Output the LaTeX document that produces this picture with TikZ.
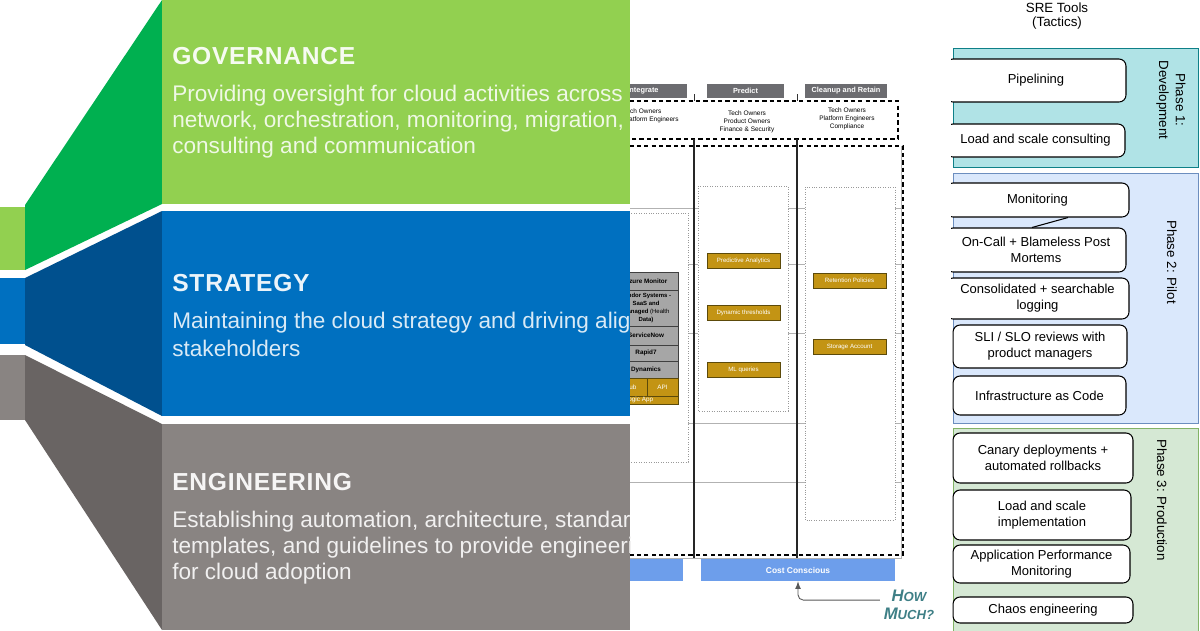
\documentclass[tikz,border=0pt]{standalone}
\usepackage{fontspec}
\setmainfont{Liberation Sans}
\newfontfamily\headfont[LetterSpace=3]{Liberation Sans}
\usepackage{tikz}
\usetikzlibrary{arrows, positioning}
\definecolor{govlight}{HTML}{92D050}
\definecolor{govdark}{HTML}{00B050}
\definecolor{stratlight}{HTML}{0070C0}
\definecolor{stratdark}{HTML}{00508E}
\definecolor{englight}{HTML}{898482}
\definecolor{engdark}{HTML}{696463}
\definecolor{lanegray}{HTML}{6C6C70}
\definecolor{srcgray}{HTML}{A6A6A6}
\definecolor{goldbox}{HTML}{C39414}
\definecolor{golddark}{HTML}{5C4A0A}
\definecolor{costblue}{HTML}{6D9EEB}
\definecolor{handteal}{HTML}{3E7F86}
\definecolor{devfill}{HTML}{B0E3E6}
\definecolor{devline}{HTML}{0E8088}
\definecolor{pilotfill}{HTML}{DAE8FC}
\definecolor{pilotline}{HTML}{6C8EBF}
\definecolor{prodfill}{HTML}{D5E8D4}
\definecolor{prodline}{HTML}{82B366}
\NewDocumentCommand \sz{ m m }{%
    \fontsize{#1}{#2}\selectfont%
}
\NewDocumentCommand \fakesc{ m }{%
    {\fontsize{7.5}{8}\selectfont\MakeUppercase{#1}}%
}

\begin{document}
\begin{tikzpicture}[x=0.02cm, y=-0.02cm]
    \tikzstyle{head}=[anchor=base west, inner sep=0pt, font=\headfont\bfseries\sz{14}{16}]
    \tikzstyle{body}=[anchor=base west, inner sep=0pt, font=\sz{12.85}{15}]
    \tikzstyle{lane}=[fill=lanegray, text=white, font=\bfseries\sz{4.2}{5}, inner sep=0pt, minimum height=0.28cm]
    \tikzstyle{who}=[font=\sz{3.7}{4.6}, align=center, inner sep=0pt]
    \tikzstyle{gold}=[fill=goldbox, draw=golddark, line width=0.5pt, text=white, font=\sz{3.5}{4}, inner sep=0pt, minimum width=1.46cm, minimum height=0.3cm]
    \tikzstyle{src}=[fill=srcgray, draw=black!75, line width=0.5pt, font=\bfseries\sz{3.6}{4.4}, align=center, inner sep=0pt, minimum width=1.28cm]
    \tikzstyle{bar}=[fill=costblue, text=white, font=\bfseries\sz{4.8}{6}, inner sep=0pt, minimum height=0.44cm]
    \tikzstyle{bigdash}=[black, line width=1.1pt, dash pattern=on 2.4pt off 1.8pt]
    \tikzstyle{dotbox}=[gray!80, fill=white, line width=0.4pt, densely dotted]
    \tikzstyle{laneline}=[gray!60, line width=0.4pt]
    \tikzstyle{tool}=[draw=black, fill=white, rounded corners=4pt, align=center, inner sep=0pt, font=\sz{7.4}{9}, line width=0.6pt]
    \tikzstyle{phase}=[rotate=-90, align=center, font=\sz{7.6}{9.6}, inner sep=0pt]
    \useasboundingbox (0,0) rectangle (1200,630);
    \fill[white] (0,0) rectangle (1200,630);

    % cloud operating model bands
    \begin{scope}
        \clip (0,0) rectangle (630,630);
        \fill[govlight] (0,207) rectangle (25,270);
        \fill[stratlight] (0,278) rectangle (25,344);
        \fill[englight] (0,355) rectangle (25,420);
        \fill[govdark] (25,205) -- (162,0) -- (162,204) -- (25,270) -- cycle;
        \fill[stratdark] (25,278) -- (162,211) -- (162,416) -- (25,345) -- cycle;
        \fill[engdark] (25,355) -- (162,424) -- (162,630) -- (25,420) -- cycle;
        \fill[govlight] (162,0) rectangle (630,204);
        \fill[stratlight] (162,211) rectangle (630,416);
        \fill[englight] (162,424) rectangle (630,630);
        \draw (172,64) node[head, text=white!92!govlight] (govhead) {GOVERNANCE};
        \draw (172,101) node[body, text=white!85!govlight] (gov1) {Providing oversight for cloud activities across};
        \draw (172,127) node[body, text=white!85!govlight] (gov2) {network, orchestration, monitoring, migration,};
        \draw (172,153) node[body, text=white!85!govlight] (gov3) {consulting and communication};
        \draw (172,291) node[head, text=white!92!stratlight] (strathead) {STRATEGY};
        \draw (172,328) node[body, text=white!85!stratlight] (strat1) {Maintaining the cloud strategy and driving alignment with};
        \draw (172,356) node[body, text=white!85!stratlight] (strat2) {stakeholders};
        \draw (172,490) node[head, text=white!92!englight] (enghead) {ENGINEERING};
        \draw (172,527) node[body, text=white!88!englight] (eng1) {Establishing automation, architecture, standards,};
        \draw (172,553) node[body, text=white!88!englight] (eng2) {templates, and guidelines to provide engineering};
        \draw (172,579) node[body, text=white!88!englight] (eng3) {for cloud adoption};
    \end{scope}

    % lanes
    \begin{scope}
        \clip (630,0) rectangle (951,630);
        \draw (643,91) node[lane, minimum width=1.76cm] (integrate) {Integrate};
        \draw (745.5,91) node[lane, minimum width=1.54cm] (predict) {Predict};
        \draw (846,91) node[lane, minimum width=1.64cm] (cleanup) {Cleanup and Retain};
        \draw[black!80, line width=0.5pt] (694,94) -- (694,101);
        \draw[black!80, line width=0.5pt] (797,94) -- (797,101);
        \draw (623,116) node[who, anchor=west, align=left] (intwho) {Tech Owners\\Platform Engineers};
        \draw (747,122) node[who] (predwho) {Tech Owners\\Product Owners\\Finance \& Security};
        \draw (847,119) node[who] (cleanwho) {Tech Owners\\Platform Engineers\\Compliance};
        \draw[bigdash] (600,101) -- (898,101) -- (898,139) -- (600,139);
        \foreach \y in {208,264,333,423,482}
            \draw[laneline] (600,\y) -- (901,\y);
        \draw[laneline] (901,146) -- (901,558) -- (600,558);
        \draw[dotbox] (600,213) rectangle (688,462);
        \draw[dotbox] (698,186) rectangle (788,411);
        \draw[dotbox] (805,187) rectangle (895,520);
        \draw[black!85, line width=0.6pt] (694,139) -- (694,558);
        \draw[black!85, line width=0.6pt] (797,139) -- (797,558);
        \draw[bigdash] (600,146) -- (903,146) -- (903,555) -- (600,555);
        \draw (646,281) node[src, minimum height=0.36cm] (azure) {Azure Monitor};
        \draw (646,308) node[src, minimum height=0.72cm, font=\bfseries\sz{3.4}{4.5}] (vendor) {Vendor Systems -\\SaaS and\\Managed \mdseries(Health\\Data)};
        \draw (646,335.5) node[src, minimum height=0.38cm] (snow) {ServiceNow};
        \draw (646,353) node[src, minimum height=0.32cm] (rapid) {Rapid7};
        \draw (646,369.5) node[src, minimum height=0.34cm] (dyn) {Dynamics};
        \draw (630.5,387) node[gold, minimum width=0.66cm, minimum height=0.36cm, font=\sz{3.6}{4.4}] (hub) {Hub};
        \draw (662.5,387) node[gold, minimum width=0.62cm, minimum height=0.36cm, font=\sz{3.6}{4.4}] (api) {API};
        \draw (639,400) node[gold, minimum width=1.56cm, minimum height=0.16cm, font=\sz{3.6}{4.4}] (logic) {Logic App};
        \draw (743.5,260.5) node[gold] (analytics) {Predictive Analytics};
        \draw (743.5,312.5) node[gold] (thresh) {Dynamic thresholds};
        \draw (743.5,369.5) node[gold] (mlq) {ML queries};
        \draw (849.5,280.5) node[gold] (retain) {Retention Policies};
        \draw (849.5,346.5) node[gold] (storage) {Storage Account};
        \draw (641.5,570) node[bar, minimum width=1.66cm] (leftbar) {};
        \draw (798,570) node[bar, minimum width=3.88cm] (cost) {Cost Conscious};
        \draw (909,605) node[align=center, inner sep=0pt, text=handteal, font=\bfseries\itshape\sz{9.5}{10.5}] (howmuch) {H\fakesc{ow}\\M\fakesc{uch?}};
        \draw[-latex, gray!70!black, line width=0.5pt, rounded corners=3pt] ([yshift=2.8pt, xshift=-2pt]howmuch.west) -| (cost.south);
    \end{scope}

    % SRE phases
    \begin{scope}
        \clip (951,0) rectangle (1200,630);
        \draw (1057,16) node[align=center, inner sep=0pt, font=\sz{7.6}{8}] (title) {SRE Tools\\(Tactics)};
        \draw[devline, fill=devfill, line width=0.5pt] (953,48) rectangle (1198,167);
        \draw[pilotline, fill=pilotfill, line width=0.5pt] (953,173) rectangle (1198,423);
        \draw[prodline, fill=prodfill, line width=0.5pt] (953,428) rectangle (1198,640);
        \draw (1171,100) node[phase] (dev) {Phase 1:\\Development};
        \draw (1172,262) node[phase] (pilot) {Phase 2: Pilot};
        \draw (1162,500) node[phase] (prod) {Phase 3: Production};
        \draw (1036,80.5) node[tool, minimum width=3.6cm, minimum height=0.86cm] (pipe) {Pipelining};
        \draw (1035.5,140.5) node[tool, minimum width=3.58cm, minimum height=0.66cm] (loadc) {Load and scale consulting};
        \draw (1037.5,200) node[tool, minimum width=3.66cm, minimum height=0.68cm] (mon) {Monitoring};
        \draw (1036,250) node[tool, minimum width=3.6cm, minimum height=0.88cm] (oncall) {On-Call + Blameless Post\\Mortems};
        \draw (1037.5,298.5) node[tool, minimum width=3.66cm, minimum height=0.82cm] (logs) {Consolidated + searchable\\logging};
        \draw (1040,346.5) node[tool, minimum width=3.48cm, minimum height=0.86cm] (sli) {SLI / SLO reviews with\\product managers};
        \draw (1039.5,395.5) node[tool, minimum width=3.46cm, minimum height=0.78cm] (iac) {Infrastructure as Code};
        \draw (1043,458) node[tool, minimum width=3.6cm, minimum height=1.0cm] (canary) {Canary deployments +\\automated rollbacks};
        \draw (1042,515) node[tool, minimum width=3.56cm, minimum height=1.0cm] (loadi) {Load and scale\\implementation};
        \draw (1041.5,564) node[tool, minimum width=3.54cm, minimum height=0.76cm] (apm) {Application Performance\\Monitoring};
        \draw (1043,610) node[tool, minimum width=3.6cm, minimum height=0.52cm] (chaos) {Chaos engineering};
        \draw[line width=0.6pt] ([xshift=0.61cm]mon.south) -- ([xshift=-0.08cm]oncall.north);
    \end{scope}
\end{tikzpicture}
\end{document}
